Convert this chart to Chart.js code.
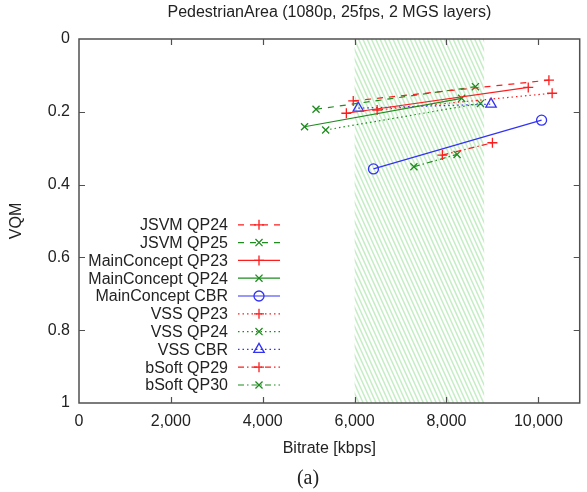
<!DOCTYPE html>
<html>
<head>
<meta charset="utf-8">
<script src="https://cdn.jsdelivr.net/npm/chart.js@4.4.1/dist/chart.umd.min.js"></script>
<style>
  html, body { margin: 0; padding: 0; background: #fff; }
</style>
</head>
<body>
<canvas id="vqmChart" width="587" height="492"></canvas>
<script>
const chartTitle = 'PedestrianArea (1080p, 25fps, 2 MGS layers)';
const xAxisTitle = 'Bitrate [kbps]';
const yAxisTitle = 'VQM';
const subCaption = '(a)';

const seriesNames = [
  'JSVM QP24', 'JSVM QP25',
  'MainConcept QP23', 'MainConcept QP24', 'MainConcept CBR',
  'VSS QP23', 'VSS QP24', 'VSS CBR',
  'bSoft QP29', 'bSoft QP30'
];

// bitrate (kbps) / VQM pairs
const jsvmQp24Bitrate = [5970, 10230];
const jsvmQp24Vqm = [0.170, 0.113];
const jsvmQp25Bitrate = [5160, 8630];
const jsvmQp25Vqm = [0.193, 0.131];
const mcQp23Bitrate = [5820, 9780];
const mcQp23Vqm = [0.204, 0.133];
const mcQp24Bitrate = [4910, 8330];
const mcQp24Vqm = [0.241, 0.163];
const mcCbrBitrate = [6410, 10070];
const mcCbrVqm = [0.357, 0.223];
const vssQp23Bitrate = [6490, 10300];
const vssQp23Vqm = [0.195, 0.149];
const vssQp24Bitrate = [5370, 8740];
const vssQp24Vqm = [0.250, 0.177];
const vssCbrBitrate = [6080, 8970];
const vssCbrVqm = [0.190, 0.179];
const bsoftQp29Bitrate = [7910, 9000];
const bsoftQp29Vqm = [0.319, 0.285];
const bsoftQp30Bitrate = [7290, 8230];
const bsoftQp30Vqm = [0.351, 0.317];

const xTickValues = [0, 2000, 4000, 6000, 8000, 10000];
const yTickValues = [0, 0.2, 0.4, 0.6, 0.8, 1];
const bandRange = [6000, 8820];

const seriesBitrate = [jsvmQp24Bitrate, jsvmQp25Bitrate, mcQp23Bitrate, mcQp24Bitrate, mcCbrBitrate,
  vssQp23Bitrate, vssQp24Bitrate, vssCbrBitrate, bsoftQp29Bitrate, bsoftQp30Bitrate];
const seriesVqm = [jsvmQp24Vqm, jsvmQp25Vqm, mcQp23Vqm, mcQp24Vqm, mcCbrVqm,
  vssQp23Vqm, vssQp24Vqm, vssCbrVqm, bsoftQp29Vqm, bsoftQp30Vqm];

const RED = 'rgb(250, 30, 30)';
const GREEN = 'rgb(30, 140, 30)';
const BLUE = 'rgb(50, 50, 245)';
const DASHED = [6, 6];
const DOTTED = [1.5, 3];
const DASHDOT = [6, 3, 1.5, 3];

const seriesStyles = [
  { color: RED, dash: DASHED, point: 'cross' },
  { color: GREEN, dash: DASHED, point: 'crossRot' },
  { color: RED, dash: [], point: 'cross' },
  { color: GREEN, dash: [], point: 'crossRot' },
  { color: BLUE, dash: [], point: 'circle' },
  { color: RED, dash: DOTTED, point: 'cross' },
  { color: GREEN, dash: DOTTED, point: 'crossRot' },
  { color: BLUE, dash: DOTTED, point: 'triangle' },
  { color: RED, dash: DASHDOT, point: 'cross' },
  { color: GREEN, dash: DASHDOT, point: 'crossRot' }
];

const SANS = '"Liberation Sans", Arial, sans-serif';
const TEXT = '#222';
const FRAME = '#505050';

const datasets = seriesNames.map((name, i) => ({
  label: name,
  data: seriesBitrate[i].map((b, j) => ({ x: b, y: seriesVqm[i][j] })),
  showLine: true,
  borderColor: seriesStyles[i].color,
  borderDash: seriesStyles[i].dash,
  borderWidth: 1.2,
  pointStyle: seriesStyles[i].point,
  pointRadius: seriesStyles[i].point === 'triangle' ? 6 : 5,
  pointBorderColor: seriesStyles[i].color,
  pointBackgroundColor: 'rgba(0,0,0,0)',
  pointBorderWidth: 1.3,
  tension: 0
}));

function drawBand(chart) {
  const { ctx, chartArea, scales } = chart;
  const x0 = scales.x.getPixelForValue(bandRange[0]);
  const x1 = scales.x.getPixelForValue(bandRange[1]);
  const h = chartArea.bottom - chartArea.top;
  ctx.save();
  ctx.beginPath();
  ctx.rect(x0, chartArea.top, x1 - x0, h);
  ctx.clip();
  ctx.strokeStyle = 'rgba(140, 220, 140, 0.5)';
  ctx.lineWidth = 1.5;
  for (let x = x0 - h * 0.45; x < x1; x += 4.3) {
    ctx.beginPath();
    ctx.moveTo(x, chartArea.top);
    ctx.lineTo(x + h * 0.45, chartArea.bottom);
    ctx.stroke();
  }
  ctx.restore();
}

function drawFrame(chart) {
  const { ctx, chartArea, scales } = chart;
  const { left, right, top, bottom } = chartArea;
  ctx.save();
  ctx.strokeStyle = FRAME;
  ctx.lineWidth = 1.5;
  ctx.strokeRect(left, top, right - left, bottom - top);
  ctx.lineWidth = 1.2;
  ctx.beginPath();
  scales.x.ticks.forEach(t => {
    const px = Math.round(scales.x.getPixelForValue(t.value)) + 0.5;
    if (px <= left + 1 || px >= right - 1) return;
    ctx.moveTo(px, bottom); ctx.lineTo(px, bottom - 6);
    ctx.moveTo(px, top); ctx.lineTo(px, top + 6);
  });
  scales.y.ticks.forEach(t => {
    const py = Math.round(scales.y.getPixelForValue(t.value)) + 0.5;
    if (py <= top + 1 || py >= bottom - 1) return;
    ctx.moveTo(left, py); ctx.lineTo(left + 6, py);
    ctx.moveTo(right, py); ctx.lineTo(right - 6, py);
  });
  ctx.stroke();
  ctx.restore();
}

function drawLegend(chart) {
  const { ctx, chartArea } = chart;
  const rowH = 17.8;
  const textRight = chartArea.left + 149;
  const lineStart = chartArea.left + 159;
  const lineEnd = chartArea.left + 201;
  const firstRow = chartArea.bottom - 18 - (datasets.length - 1) * rowH;
  ctx.save();
  ctx.font = '16px ' + SANS;
  ctx.textAlign = 'right';
  ctx.textBaseline = 'middle';
  datasets.forEach((ds, i) => {
    const y = firstRow + i * rowH;
    ctx.fillStyle = TEXT;
    ctx.fillText(ds.label, textRight, y + 1);
    ctx.strokeStyle = ds.borderColor;
    ctx.lineWidth = ds.borderWidth;
    ctx.setLineDash(ds.borderDash);
    ctx.beginPath();
    ctx.moveTo(lineStart, y);
    ctx.lineTo(lineEnd, y);
    ctx.stroke();
    ctx.setLineDash([]);
    ctx.fillStyle = 'rgba(0,0,0,0)';
    ctx.lineWidth = ds.pointBorderWidth;
    Chart.helpers.drawPoint(ctx, {
      pointStyle: ds.pointStyle, radius: ds.pointRadius, rotation: 0, borderWidth: ds.pointBorderWidth
    }, (lineStart + lineEnd) / 2, y);
  });
  ctx.restore();
}

function drawTexts(chart) {
  const { ctx, chartArea } = chart;
  const midX = (chartArea.left + chartArea.right) / 2;
  const midY = (chartArea.top + chartArea.bottom) / 2;
  ctx.save();
  ctx.fillStyle = TEXT;
  ctx.textAlign = 'center';
  ctx.textBaseline = 'middle';
  ctx.font = '16px ' + SANS;
  ctx.fillText(chartTitle, midX, 13);
  ctx.fillText(xAxisTitle, midX, 449);
  ctx.font = '20px "Liberation Serif", "Times New Roman", serif';
  ctx.fillText(subCaption, 308, 479);
  ctx.translate(17, midY);
  ctx.rotate(-Math.PI / 2);
  ctx.font = '16px ' + SANS;
  ctx.fillText(yAxisTitle, 0, 0);
  ctx.restore();
}

const decorPlugin = {
  id: 'decor',
  beforeDatasetsDraw(chart) {
    drawBand(chart);
  },
  afterDraw(chart) {
    drawFrame(chart);
    drawLegend(chart);
    drawTexts(chart);
  }
};

Chart.defaults.font.family = SANS;
Chart.defaults.font.size = 16;
Chart.defaults.color = TEXT;

new Chart(document.getElementById('vqmChart'), {
  type: 'scatter',
  data: { datasets },
  plugins: [decorPlugin],
  options: {
    responsive: false,
    animation: false,
    layout: { padding: { top: 39, right: 3, left: 0, bottom: 0 } },
    plugins: {
      legend: { display: false },
      title: { display: false },
      tooltip: { enabled: false }
    },
    scales: {
      x: {
        type: 'linear',
        min: 0,
        max: 10900,
        afterBuildTicks: scale => { scale.ticks = xTickValues.map(v => ({ value: v })); },
        afterFit: scale => {
          scale.height = 89;
          scale.paddingLeft = 0;
          scale.paddingRight = 0;
        },
        grid: { display: false, drawTicks: false },
        border: { display: false },
        ticks: {
          padding: 9,
          maxRotation: 0,
          autoSkip: false,
          callback: v => v.toLocaleString('en-US')
        }
      },
      y: {
        type: 'linear',
        reverse: true,
        min: 0,
        max: 1,
        afterBuildTicks: scale => { scale.ticks = yTickValues.map(v => ({ value: v })); },
        afterFit: scale => {
          scale.width = 79;
          scale.paddingTop = 0;
          scale.paddingBottom = 0;
        },
        grid: { display: false, drawTicks: false },
        border: { display: false },
        ticks: {
          padding: 9,
          autoSkip: false,
          callback: v => String(v)
        }
      }
    }
  }
});
</script>
</body>
</html>
